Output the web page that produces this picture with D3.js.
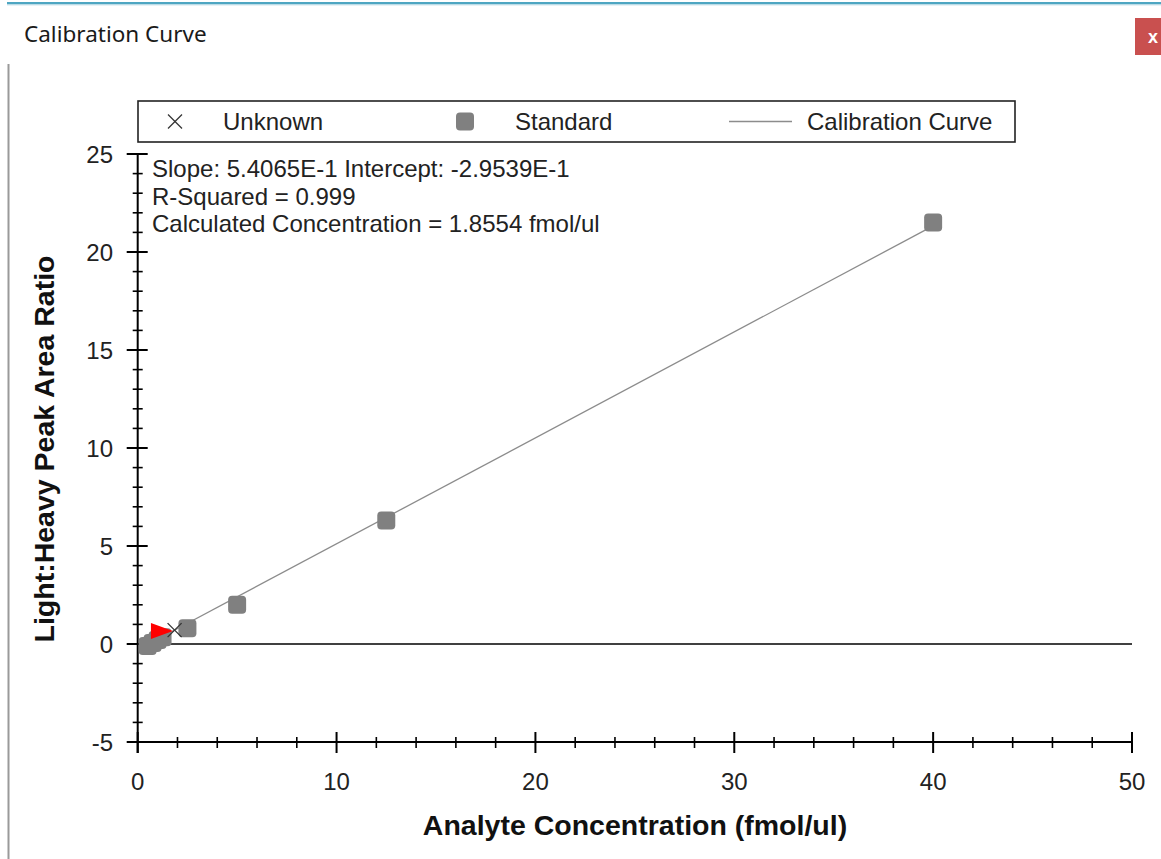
<!DOCTYPE html>
<html>
<head>
<meta charset="utf-8">
<script src="https://cdn.jsdelivr.net/npm/d3@7"></script>
<style>
  html, body { margin: 0; padding: 0; background: #fff; }
  svg { display: block; }
</style>
</head>
<body>
<svg id="chart" width="1161" height="859"></svg>
<script>
// ---- data ----
const standardX = [0.5, 0.75, 1.0, 1.25, 2.5, 5, 12.5, 40];
const standardY = [-0.1, 0.05, 0.2, 0.35, 0.8, 2.0, 6.3, 21.5];
const unknownX = [1.8554];
const unknownY = [0.7077];
const selectedX = [1.22];
const selectedY = [0.66];
const slope = 0.54065;
const intercept = -0.29539;
const xTicks = [0, 10, 20, 30, 40, 50];
const yTicks = [-5, 0, 5, 10, 15, 20, 25];
const legendLabels = ["Unknown", "Standard", "Calibration Curve"];
const statLines = [
  "Slope: 5.4065E-1 Intercept: -2.9539E-1",
  "R-Squared = 0.999",
  "Calculated Concentration = 1.8554 fmol/ul"
];
const windowTitle = "Calibration Curve";
const xTitle = "Analyte Concentration (fmol/ul)";
const yTitle = "Light:Heavy Peak Area Ratio";

const svg = d3.select("#chart");
const FONT = "'Liberation Sans', Arial, sans-serif";

// ---- window chrome ----
svg.append("rect").attr("x", 7).attr("y", 2).attr("width", 1154).attr("height", 2.5).attr("fill", "#4ea6c2");
svg.append("rect").attr("x", 7).attr("y", 4.5).attr("width", 1154).attr("height", 1).attr("fill", "#cfe6ee");
svg.append("text").attr("x", 24).attr("y", 42)
  .attr("font-family", "'Noto Sans', 'Open Sans', sans-serif").attr("font-size", 22.5)
  .attr("fill", "#1a1a1a").text(windowTitle);
svg.append("rect").attr("x", 1135).attr("y", 18).attr("width", 26).attr("height", 37).attr("fill", "#c9504f");
svg.append("text").attr("x", 1153).attr("y", 43).attr("text-anchor", "middle")
  .attr("font-family", FONT).attr("font-weight", "bold").attr("font-size", 18).attr("fill", "#fff").text("x");
svg.append("line").attr("x1", 8.5).attr("x2", 8.5).attr("y1", 64).attr("y2", 859)
  .attr("stroke", "#9a9a9a").attr("stroke-width", 2);

// ---- scales ----
const x = d3.scaleLinear().domain([0, 50]).range([137.7, 1132]);
const y = d3.scaleLinear().domain([-5, 25]).range([742, 154]);

// ---- x axis (at y = -5) ----
const xMinor = d3.range(0, 50.01, 2).filter(v => v % 10 !== 0);
const xAxisG = svg.append("g");
xAxisG.append("line").attr("x1", 127).attr("x2", x(50)).attr("y1", y(-5)).attr("y2", y(-5))
  .attr("stroke", "#000").attr("stroke-width", 2);
xAxisG.selectAll(".xmaj").data(xTicks).join("line")
  .attr("x1", d => x(d)).attr("x2", d => x(d)).attr("y1", y(-5) - 10).attr("y2", y(-5) + 11)
  .attr("stroke", "#000").attr("stroke-width", 2);
xAxisG.selectAll(".xmin").data(xMinor).join("line")
  .attr("x1", d => x(d)).attr("x2", d => x(d)).attr("y1", y(-5) - 5).attr("y2", y(-5) + 6)
  .attr("stroke", "#000").attr("stroke-width", 1.6);
xAxisG.selectAll(".xlab").data(xTicks).join("text")
  .attr("x", d => x(d)).attr("y", 790).attr("text-anchor", "middle")
  .attr("font-family", FONT).attr("font-size", 24).attr("fill", "#222").text(d => d);

// ---- y axis (at x = 0) ----
const yMinor = d3.range(-5, 25.01, 1).filter(v => v % 5 !== 0);
const yAxisG = svg.append("g");
yAxisG.append("line").attr("x1", x(0)).attr("x2", x(0)).attr("y1", y(25)).attr("y2", y(-5) + 11)
  .attr("stroke", "#000").attr("stroke-width", 2);
yAxisG.selectAll(".ymaj").data(yTicks).join("line")
  .attr("x1", x(0) - 11).attr("x2", x(0) + 10).attr("y1", d => y(d)).attr("y2", d => y(d))
  .attr("stroke", "#000").attr("stroke-width", 2);
yAxisG.selectAll(".ymin").data(yMinor).join("line")
  .attr("x1", x(0) - 5).attr("x2", x(0) + 5).attr("y1", d => y(d)).attr("y2", d => y(d))
  .attr("stroke", "#000").attr("stroke-width", 1.6);
yAxisG.selectAll(".ylab").data(yTicks).join("text")
  .attr("x", 113).attr("y", d => y(d) + 8.5).attr("text-anchor", "end")
  .attr("font-family", FONT).attr("font-size", 24).attr("fill", "#222").text(d => d);

// zero line
svg.append("line").attr("x1", 127).attr("x2", x(50)).attr("y1", y(0)).attr("y2", y(0))
  .attr("stroke", "#000").attr("stroke-width", 1.6);

// ---- axis titles ----
svg.append("text").attr("x", 635).attr("y", 835).attr("text-anchor", "middle")
  .attr("font-family", FONT).attr("font-weight", "bold").attr("font-size", 28.5)
  .attr("fill", "#111").text(xTitle);
svg.append("text").attr("transform", "translate(54,449) rotate(-90)").attr("text-anchor", "middle")
  .attr("font-family", FONT).attr("font-weight", "bold").attr("font-size", 28.5)
  .attr("fill", "#111").text(yTitle);

// ---- calibration line ----
const xMin = d3.min(standardX), xMax = d3.max(standardX);
svg.append("line")
  .attr("x1", x(xMin)).attr("y1", y(slope * xMin + intercept))
  .attr("x2", x(xMax)).attr("y2", y(slope * xMax + intercept))
  .attr("stroke", "#8c8c8c").attr("stroke-width", 1.3);

// ---- standards ----
const stdData = standardX.map((v, i) => ({ x: v, y: standardY[i] }));
svg.selectAll(".std").data(stdData).join("rect")
  .attr("x", d => x(d.x) - 9).attr("y", d => y(d.y) - 9)
  .attr("width", 18).attr("height", 18).attr("rx", 4).attr("ry", 4)
  .attr("fill", "#808080");

// ---- selected marker (red triangle pointing right) ----
const selData = selectedX.map((v, i) => ({ x: v, y: selectedY[i] }));
svg.selectAll(".sel").data(selData).join("path")
  .attr("d", "M-11,-8L11,0L-11,8Z")
  .attr("transform", d => `translate(${x(d.x)},${y(d.y)})`)
  .attr("fill", "#ff0000");

// ---- unknown ----
const unkData = unknownX.map((v, i) => ({ x: v, y: unknownY[i] }));
const unkG = svg.selectAll(".unk").data(unkData).join("g")
  .attr("transform", d => `translate(${x(d.x)},${y(d.y)})`);
unkG.append("line").attr("x1", -7).attr("y1", -7).attr("x2", 7).attr("y2", 7).attr("stroke", "#333").attr("stroke-width", 1.4);
unkG.append("line").attr("x1", -7).attr("y1", 7).attr("x2", 7).attr("y2", -7).attr("stroke", "#333").attr("stroke-width", 1.4);

// ---- stats text ----
svg.selectAll(".stat").data(statLines).join("text")
  .attr("x", 152).attr("y", (d, i) => 177 + i * 27.5)
  .attr("font-family", FONT).attr("font-size", 24).attr("fill", "#222").text(d => d);

// ---- legend ----
const lg = svg.append("g");
lg.append("rect").attr("x", 138).attr("y", 101).attr("width", 877).attr("height", 41)
  .attr("fill", "#fff").attr("stroke", "#222").attr("stroke-width", 1.6);
const ly = 121.5;
lg.append("line").attr("x1", 168).attr("y1", ly - 7).attr("x2", 182).attr("y2", ly + 7).attr("stroke", "#333").attr("stroke-width", 1.3);
lg.append("line").attr("x1", 168).attr("y1", ly + 7).attr("x2", 182).attr("y2", ly - 7).attr("stroke", "#333").attr("stroke-width", 1.3);
lg.append("rect").attr("x", 456).attr("y", ly - 9).attr("width", 18).attr("height", 18).attr("rx", 4).attr("fill", "#808080");
lg.append("line").attr("x1", 729).attr("x2", 792).attr("y1", ly).attr("y2", ly).attr("stroke", "#8c8c8c").attr("stroke-width", 1.3);
const legX = [223, 515, 807];
lg.selectAll(".lt").data(legendLabels).join("text")
  .attr("x", (d, i) => legX[i]).attr("y", ly + 8.5)
  .attr("font-family", FONT).attr("font-size", 24).attr("fill", "#222").text(d => d);
</script>
</body>
</html>
